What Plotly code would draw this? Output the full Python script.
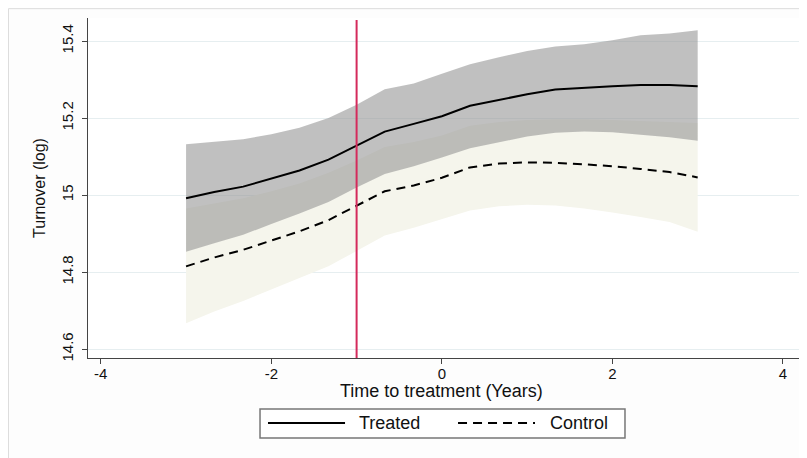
import plotly.graph_objects as go

x = [-3, -2.67, -2.33, -2, -1.67, -1.33, -1, -0.67, -0.33, 0, 0.33, 0.67, 1, 1.33, 1.67, 2, 2.33, 2.67, 3]

treated = [14.992, 15.008, 15.022, 15.042, 15.064, 15.092, 15.128, 15.165, 15.185, 15.205,
           15.232, 15.248, 15.262, 15.274, 15.279, 15.283, 15.286, 15.286, 15.283]
treated_hi = [15.132, 15.138, 15.145, 15.158, 15.175, 15.200, 15.235, 15.275, 15.290, 15.315,
              15.340, 15.358, 15.374, 15.386, 15.392, 15.402, 15.415, 15.420, 15.428]
treated_lo = [14.853, 14.875, 14.897, 14.925, 14.952, 14.982, 15.020, 15.055, 15.075, 15.098,
              15.122, 15.138, 15.152, 15.162, 15.165, 15.163, 15.157, 15.150, 15.141]

control = [14.815, 14.838, 14.858, 14.882, 14.906, 14.935, 14.972, 15.010, 15.025, 15.045,
           15.072, 15.082, 15.085, 15.084, 15.080, 15.075, 15.068, 15.060, 15.046]
control_hi = [14.965, 14.978, 14.992, 15.010, 15.030, 15.058, 15.090, 15.125, 15.138, 15.155,
              15.180, 15.190, 15.195, 15.197, 15.197, 15.195, 15.193, 15.190, 15.187]
control_lo = [14.667, 14.698, 14.725, 14.755, 14.785, 14.815, 14.855, 14.895, 14.915, 14.937,
              14.960, 14.971, 14.975, 14.973, 14.965, 14.955, 14.943, 14.930, 14.905]

treatment_time = -1
x_ticks = [-4, -2, 0, 2, 4]
y_ticks = [14.6, 14.8, 15.0, 15.2, 15.4]
y_tick_labels = ["14.6", "14.8", "15", "15.2", "15.4"]
series_names = ["Treated", "Control"]

DASH = "9px,6px"

fig = go.Figure()

# Control CI band (drawn first)
fig.add_trace(go.Scatter(x=x + x[::-1], y=control_hi + control_lo[::-1], fill="toself",
                         fillcolor="#f5f5ec", line=dict(width=0), mode="lines",
                         showlegend=False, hoverinfo="skip"))
# Treated CI band
fig.add_trace(go.Scatter(x=x + x[::-1], y=treated_hi + treated_lo[::-1], fill="toself",
                         fillcolor="rgba(150,150,150,0.6)", line=dict(width=0), mode="lines",
                         showlegend=False, hoverinfo="skip"))

fig.add_trace(go.Scatter(x=x, y=treated, mode="lines", name=series_names[0],
                         line=dict(color="black", width=2), showlegend=False))
fig.add_trace(go.Scatter(x=x, y=control, mode="lines", name=series_names[1],
                         line=dict(color="black", width=2, dash=DASH), showlegend=False))

fig.add_shape(type="line", x0=treatment_time, x1=treatment_time, y0=0, y1=0.994,
              xref="x", yref="paper", line=dict(color="#d42a5c", width=2))

# outer frame
fig.add_shape(type="rect", x0=-0.1117, x1=1.1, y0=-0.5, y1=1.0275, xref="paper", yref="paper",
              line=dict(color="#dddddd", width=1), layer="below")

# x-axis title
fig.add_annotation(text="Time to treatment (Years)", x=0.497, y=-0.097, xref="paper", yref="paper",
                   xanchor="center", yanchor="middle", showarrow=False, font=dict(size=18))

# legend (box, line samples, labels)
fig.add_shape(type="rect", x0=0.2416, x1=0.7542, y0=-0.2353, y1=-0.15, xref="paper", yref="paper",
              line=dict(color="#777777", width=1.5), fillcolor="white")
fig.add_shape(type="line", x0=0.2528, x1=0.3610, y0=-0.1912, y1=-0.1912, xref="paper", yref="paper",
              line=dict(color="black", width=2))
fig.add_shape(type="line", x0=0.5197, x1=0.6278, y0=-0.1912, y1=-0.1912, xref="paper", yref="paper",
              line=dict(color="black", width=2, dash=DASH))
fig.add_annotation(text=series_names[0], x=0.3778, y=-0.1912, xref="paper", yref="paper",
                   xanchor="left", yanchor="middle", showarrow=False, font=dict(size=18))
fig.add_annotation(text=series_names[1], x=0.6461, y=-0.1912, xref="paper", yref="paper",
                   xanchor="left", yanchor="middle", showarrow=False, font=dict(size=18))

fig.update_layout(
    width=807, height=458,
    margin=dict(l=80, r=15, t=10, b=108),
    paper_bgcolor="#fdfdfd",
    plot_bgcolor="white",
    font=dict(family="Liberation Sans, Arial, sans-serif", color="#111111", size=15),
    xaxis=dict(range=[-4.15, 4.2], tickmode="array", tickvals=x_ticks,
               ticktext=[str(t) for t in x_ticks], showgrid=False, zeroline=False,
               showline=True, linecolor="#444444", linewidth=1,
               ticks="outside", ticklen=5, tickcolor="#444444", automargin=False,
               ticklabelstandoff=-3, tickfont=dict(size=15)),
    yaxis=dict(range=[14.577, 15.46], tickmode="array", tickvals=y_ticks,
               ticktext=y_tick_labels, showgrid=True, gridcolor="#e6eef0", gridwidth=1,
               zeroline=False, showline=True, linecolor="#444444", linewidth=1,
               ticks="outside", ticklen=5, tickcolor="#444444", tickangle=-90,
               automargin=False, ticklabelstandoff=3,
               title=dict(text="Turnover (log)", font=dict(size=16), standoff=9),
               tickfont=dict(size=15)),
    showlegend=False,
)

fig.write_html("out.html")
